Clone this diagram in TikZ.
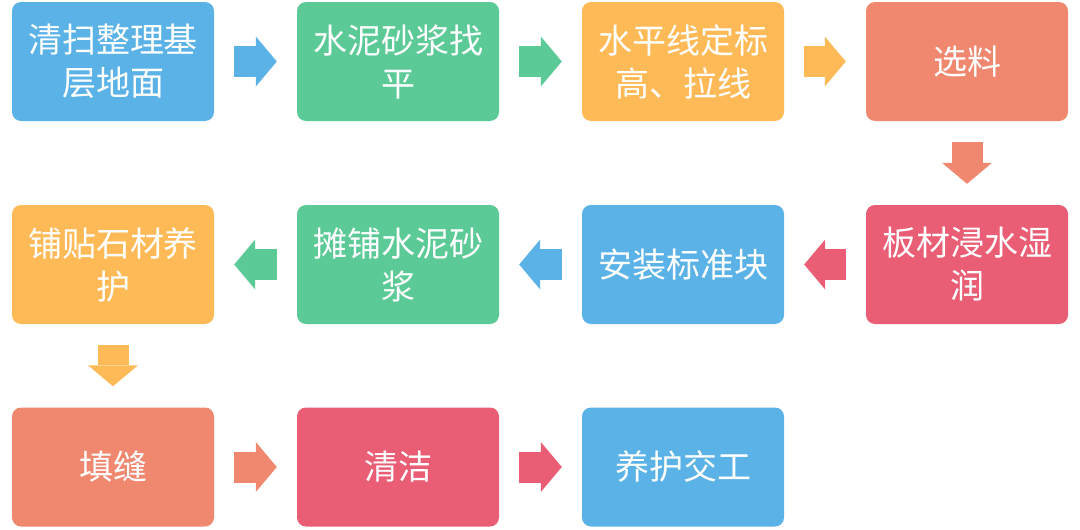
\documentclass[tikz,border=0pt]{standalone}
\usepackage{fontspec}
\newfontfamily\cjk{Noto Sans CJK SC}
\usetikzlibrary{arrows.meta,calc}
\definecolor{cblue}{HTML}{5AB2E6}
\definecolor{cgreen}{HTML}{5BCA97}
\definecolor{corange}{HTML}{FFBA58}
\definecolor{csalmon}{HTML}{F08870}
\definecolor{cpink}{HTML}{EA5E75}
\tikzset{
  stepbox/.style={rounded corners=9pt, minimum width=202pt, minimum height=119pt,
    inner sep=0pt, align=center, text=white,
    font=\cjk\fontsize{34pt}{43pt}\selectfont},
  flowarrow/.style={line width=31pt,
    -{Triangle[length=21pt,width=50pt,line width=0pt]}},
}
\begin{document}
\begin{tikzpicture}[x=1pt,y=-1pt]
\useasboundingbox (0,0) rectangle (1080,530);
% row 1
\node[stepbox, fill=cblue]   (n1) at (113,61.5) {清扫整理基\\层地面};
\node[stepbox, fill=cgreen]  (n2) at (398,61.5) {水泥砂浆找\\平};
\node[stepbox, fill=corange] (n3) at (683,61.5) {水平线定标\\高、拉线};
\node[stepbox, fill=csalmon] (n4) at (967,61.5) {选料};
% row 2
\node[stepbox, fill=cpink]   (n5) at (967,264.5) {板材浸水湿\\润};
\node[stepbox, fill=cblue]   (n6) at (683,264.5) {安装标准块};
\node[stepbox, fill=cgreen]  (n7) at (398,264.5) {摊铺水泥砂\\浆};
\node[stepbox, fill=corange] (n8) at (113,264.5) {铺贴石材养\\护};
% row 3
\node[stepbox, fill=csalmon] (n9)  at (113,467) {填缝};
\node[stepbox, fill=cpink]   (n10) at (398,467) {清洁};
\node[stepbox, fill=cblue]   (n11) at (683,467) {养护交工};
% arrows
\draw[flowarrow, cblue]   ([xshift=20pt]n1.east) -- ([xshift=-20pt]n2.west);
\draw[flowarrow, cgreen]  ([xshift=20pt]n2.east) -- ([xshift=-20pt]n3.west);
\draw[flowarrow, corange] ([xshift=20pt]n3.east) -- ([xshift=-20pt]n4.west);
\draw[flowarrow, csalmon] ([yshift=-21pt]n4.south) -- ([yshift=21pt]n5.north);
\draw[flowarrow, cpink]   ([xshift=-20pt]n5.west) -- ([xshift=20pt]n6.east);
\draw[flowarrow, cblue]   ([xshift=-20pt]n6.west) -- ([xshift=20pt]n7.east);
\draw[flowarrow, cgreen]  ([xshift=-20pt]n7.west) -- ([xshift=20pt]n8.east);
\draw[flowarrow, corange] ([yshift=-21pt]n8.south) -- ([yshift=21pt]n9.north);
\draw[flowarrow, csalmon] ([xshift=20pt]n9.east) -- ([xshift=-20pt]n10.west);
\draw[flowarrow, cpink]   ([xshift=20pt]n10.east) -- ([xshift=-20pt]n11.west);
\end{tikzpicture}
\end{document}
